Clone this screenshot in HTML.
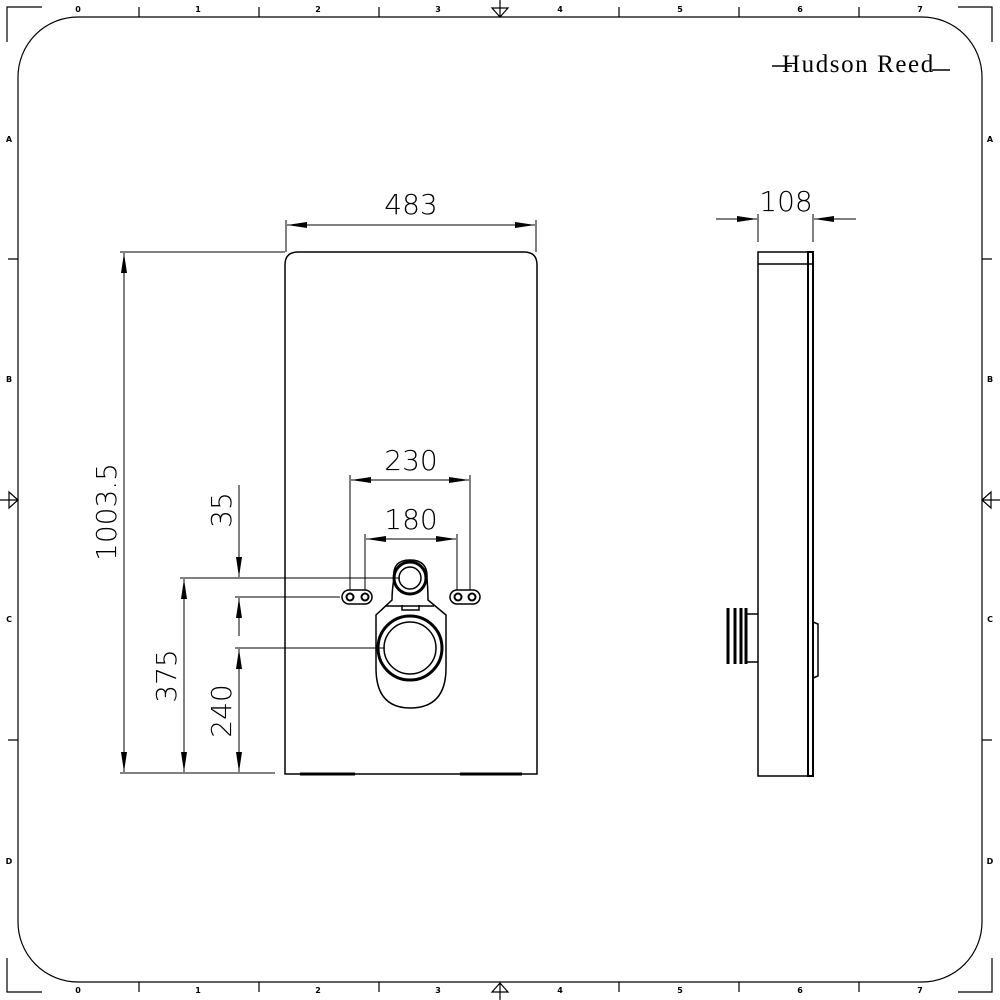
<!DOCTYPE html>
<html><head><meta charset="utf-8"><style>
html,body{margin:0;padding:0;background:#fff;}
svg{display:block;}
.t{font-family:"DejaVu Sans","Liberation Sans",sans-serif;font-weight:300;}
</style></head><body>
<svg width="1000" height="1000" viewBox="0 0 1000 1000" xmlns="http://www.w3.org/2000/svg">
<defs>
<marker id="b" viewBox="0 0 20 10" refX="20" refY="5" markerWidth="20" markerHeight="10" markerUnits="userSpaceOnUse" orient="auto-start-reverse"><path d="M0,2 L20,5 L0,8 Z" fill="#000"/></marker>
</defs>
<g fill="none" stroke="#000" stroke-width="1.2">
<rect x="18" y="17" width="964" height="965" rx="60" ry="60"/>
<path d="M7,42 V7 H42 M958,7 H992 V42 M7,958 V992 H42 M958,992 H992 V958"/>
<path d="M139,7V17 M259,7V17 M379,7V17 M619,7V17 M739,7V17 M859,7V17"/>
<path d="M139,982V992 M259,982V992 M379,982V992 M619,982V992 M739,982V992 M859,982V992"/>
<path d="M8,259H18 M8,740H18 M982,259H992 M982,740H992"/>
<path d="M500,0V17 M492,8L500,17L508,8Z M500,983V1000 M492,992L500,983L508,992Z"/>
<path d="M0,500H18 M9,492L18,500L9,508Z M982,500H1000 M991,492L982,500L991,508Z"/>
<path d="M772,66H792 M932,70H950" stroke-width="1.5"/>
</g>
<g font-size="8" font-weight="bold" fill="#000" text-anchor="middle" style="font-family:'DejaVu Sans',sans-serif">
<text x="78" y="12">0</text><text x="198" y="12">1</text><text x="318" y="12">2</text><text x="438" y="12">3</text><text x="560" y="12">4</text><text x="680" y="12">5</text><text x="800" y="12">6</text><text x="920" y="12">7</text>
<text x="78" y="993">0</text><text x="198" y="993">1</text><text x="318" y="993">2</text><text x="438" y="993">3</text><text x="560" y="993">4</text><text x="680" y="993">5</text><text x="800" y="993">6</text><text x="920" y="993">7</text>
<text x="9" y="142">A</text><text x="9" y="382">B</text><text x="9" y="622">C</text><text x="9" y="864">D</text>
<text x="990" y="142">A</text><text x="990" y="382">B</text><text x="990" y="622">C</text><text x="990" y="864">D</text>
</g>
<text x="782" y="72" font-family="'Liberation Serif',serif" font-size="25" letter-spacing="0.8" textLength="152" fill="#000">Hudson Reed</text>

<g fill="none" stroke="#000" stroke-width="1.5">
<path d="M285,774 V265 Q285,252 298,252 H524 Q537,252 537,265 V774 Z"/>
<path d="M300,774H355 M460,774H522" stroke-width="3"/>
<circle cx="410" cy="578" r="16" stroke-width="3"/>
<circle cx="410" cy="578" r="11"/>
<path d="M394,578 Q392,560 410,560 Q428,560 427,578 Q428,590 428,600 L446,615 L446,668 Q446,708 410,708 Q376,708 376,668 L376,615 L392,600 Q392,590 394,578Z"/>
<path d="M386,606 H434 M402,605 V610 H419 V605"/>
<circle cx="410" cy="648" r="32" stroke-width="3"/>
<circle cx="410" cy="648" r="26"/>
<circle cx="350" cy="597" r="3.5" stroke-width="2"/><circle cx="365" cy="597" r="3.5" stroke-width="2"/>
<rect x="342" y="590" width="30" height="14" rx="7"/>
<circle cx="458" cy="597" r="3.5" stroke-width="2"/><circle cx="472" cy="597" r="3.5" stroke-width="2"/>
<rect x="450" y="590" width="30" height="14" rx="7"/>
<rect x="758" y="252" width="50" height="524"/>
<path d="M758,264H812"/>
<rect x="808" y="252" width="5" height="524" stroke-width="2"/>
<path d="M813,622 L818,624 V676 L813,678"/>
<path d="M745,614 H758 M745,662 H758"/>
<path d="M728,608V664 M735,608V664 M741,608V664 M746,608V664" stroke-width="3"/>
</g>

<g fill="none" stroke="#000" stroke-width="1">
<path d="M286,220V252 M536,220V252"/>
<line x1="287" y1="225" x2="535" y2="225" marker-start="url(#b)" marker-end="url(#b)"/>
<path d="M120,252H285 M120,773H275"/>
<line x1="124" y1="253" x2="124" y2="772" marker-start="url(#b)" marker-end="url(#b)"/>
<path d="M180,578H400 M235,597H340 M235,648H385"/>
<line x1="184" y1="579" x2="184" y2="772" marker-start="url(#b)" marker-end="url(#b)"/>
<line x1="239" y1="649" x2="239" y2="772" marker-start="url(#b)" marker-end="url(#b)"/>
<line x1="239" y1="485" x2="239" y2="577" marker-end="url(#b)"/>
<line x1="239" y1="636" x2="239" y2="598" marker-end="url(#b)"/>
<path d="M350,475V590 M470,475V590 M365,534V590 M457,534V590"/>
<line x1="351" y1="480" x2="469" y2="480" marker-start="url(#b)" marker-end="url(#b)"/>
<line x1="366" y1="539" x2="456" y2="539" marker-start="url(#b)" marker-end="url(#b)"/>
<path d="M758,214V242 M813,214V242"/>
<line x1="716" y1="219" x2="757" y2="219" marker-end="url(#b)"/>
<line x1="856" y1="219" x2="814" y2="219" marker-end="url(#b)"/>
</g>
<g class="t" font-size="28" fill="#000" text-anchor="middle">
<text x="411" y="214">483</text>
<text x="411" y="470">230</text>
<text x="411" y="529">180</text>
<text x="786" y="211">108</text>
<text transform="translate(116,512) rotate(-90)">1003.5</text>
<text transform="translate(176,676) rotate(-90)">375</text>
<text transform="translate(231,711) rotate(-90)">240</text>
<text transform="translate(231,510) rotate(-90)">35</text>
</g>
</svg>
</body></html>
